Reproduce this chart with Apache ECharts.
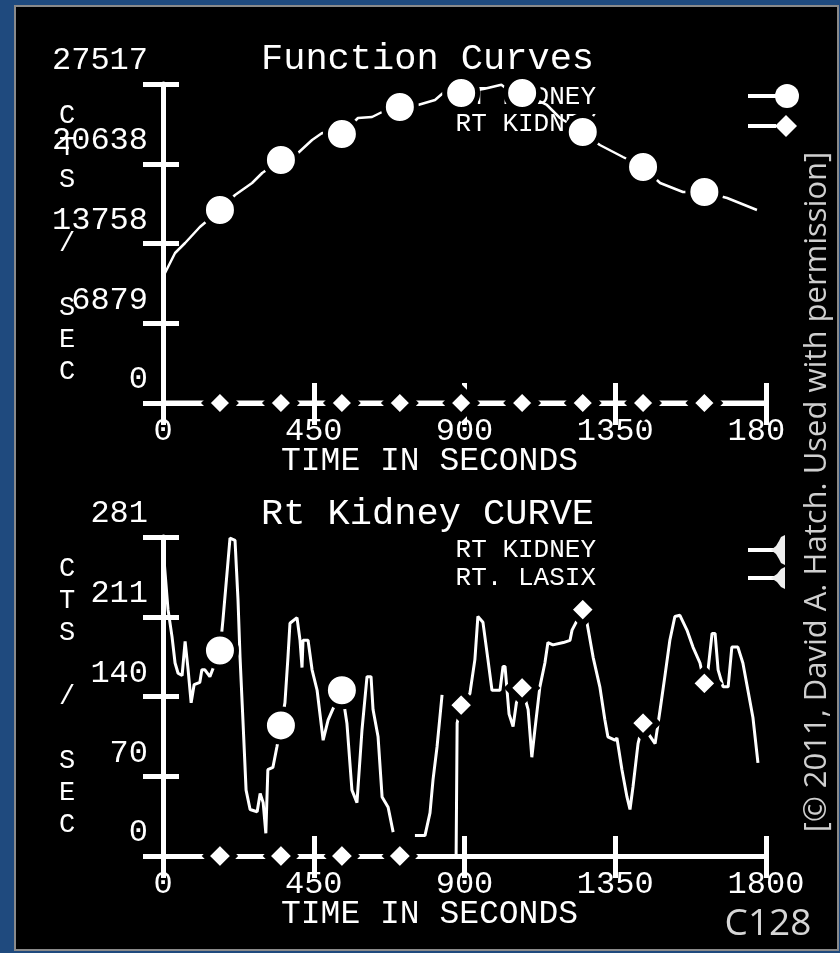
<!DOCTYPE html>
<html><head><meta charset="utf-8">
<script src="https://cdn.jsdelivr.net/npm/echarts/dist/echarts.min.js"></script>
<style>html,body{margin:0;padding:0;background:#1f4a7e}#c{width:840px;height:953px}</style>
</head><body><div id="c"></div>
<script>
// ---------------- data ----------------
const markerTimes = [170, 352, 534, 707, 890, 1072, 1253, 1433, 1616];
const xTickLabelsTop = ['0', '450', '900', '1350', '180 '];
const xTickLabelsBottom = ['0', '450', '900', '1350', '1800'];
const yTickLabelsTop = ['0', '6879', '13758', '20638', '27517'];
const yTickLabelsBottom = ['0', '70', '140', '211', '281'];

// Function Curves – RT KIDNEY (circles)
const funcTimes = [6,36,66,110,170,215,266,296,352,403,445,475,534,582,624,654,707,761,812,836,890,960,1010,1030,1072,1146,1185,1253,1304,1373,1433,1484,1552,1616,1684,1773];
const funcCounts = [11214,12939,13802,15182,16648,17942,18977,19840,20962,21565,22686,23290,23200,24584,24670,25102,25533,25706,26137,26741,26741,27100,27450,27000,26741,25706,24584,23376,22255,21220,20357,18977,18200,18200,17683,16648];
// Function Curves – RT KIDNEY (diamonds)
const funcZeroTimes = [0,170,352,534,707,890,1072,1253,1433,1616,1800];
const funcZeroCounts = [0,0,0,0,0,0,0,0,0,0,0];

// Rt Kidney CURVE – RT KIDNEY (circles)
const kidneyTimes = [0,15,27,36,45,57,66,75,84,93,110,116,125,140,170,179,191,200,215,224,230,239,248,260,281,290,299,307,313,328,340,352,364,373,379,400,409,415,418,433,445,460,478,493,508,534,549,564,579,594,609,621,627,642,654,672,687,720,752,782,797,806,818,833];
const kidneyCounts = [272,217,193,170,161,159,189,164,135,151,153,164,164,158,181,208,249,280,278,225,175,117,58,41,39,55,47,20,76,78,96,115,135,175,205,210,190,166,190,190,164,146,102,120,130,146,117,58,47,111,158,158,129,105,52,43,21,null,18,18,38,67,96,142];
// Rt Kidney CURVE – RT. LASIX (diamonds)
const lasixTimes = [0,170,352,534,707,875,878,890,916,931,940,955,970,982,1006,1015,1021,1033,1045,1055,1072,1090,1101,1110,1125,1140,1149,1164,1195,1215,1221,1253,1266,1284,1304,1319,1328,1349,1355,1370,1385,1394,1403,1418,1433,1448,1469,1484,1498,1513,1528,1543,1564,1582,1603,1616,1627,1639,1648,1657,1672,1687,1698,1716,1731,1746,1761,1776];
const lasixCounts = [0,0,0,0,0,0,117,133,143,173,211,206,173,146,146,167,167,125,114,135,148,129,87,111,149,170,188,186,188,190,199,217,205,175,149,120,105,102,104,76,52,41,61,99,117,108,99,129,158,190,211,212,199,184,170,152,164,196,196,164,149,149,184,184,170,146,122,82];

// ---------------- helpers ----------------
const MONO = 'Liberation Mono';
const W = '#ffffff';
function build(ts, vs, sym) {
  return ts.map((t, i) => ({
    value: [t, vs[i] == null ? '-' : vs[i]],
    symbol: markerTimes.indexOf(t) >= 0 ? sym : 'none'
  }));
}
function series(name, xi, yi, data, sym, size, bw, lw) {
  return {
    type: 'line', name, xAxisIndex: xi, yAxisIndex: yi, data,
    symbol: sym, symbolSize: size, showSymbol: true, showAllSymbol: true,
    connectNulls: false, silent: true, z: 3,
    lineStyle: { color: W, width: lw },
    itemStyle: { color: W, borderColor: '#000', borderWidth: bw, opacity: 1 }
  };
}
const tickStyle = { color: W, width: 5 };
function mainX(grid, labels) {
  return {
    type: 'value', gridIndex: grid, position: 'bottom', min: 0, max: 1800, interval: 450,
    axisLine: { show: true, onZero: false, lineStyle: { color: W, width: 5 } },
    axisTick: { show: true, inside: false, length: 22, lineStyle: tickStyle },
    splitLine: { show: false },
    axisLabel: { show: true, showMinLabel: true, showMaxLabel: true, color: W, fontFamily: MONO, fontSize: 32, margin: 13,
      formatter: v => labels[Math.round(v / 450)] },
    name: 'TIME IN SECONDS', nameLocation: 'middle', nameGap: 42, nameMoveOverlap: false,
    nameTextStyle: { color: W, fontFamily: MONO, fontSize: 33, padding: [0, 70, 0, 0] }
  };
}
function overX(grid) {
  return {
    type: 'value', gridIndex: grid, position: 'bottom', min: 0, max: 1800, interval: 450,
    axisLine: { show: false, onZero: false },
    axisTick: { show: true, inside: true, length: 20, lineStyle: tickStyle },
    splitLine: { show: false }, axisLabel: { show: false }
  };
}
function mainY(grid, max, labels) {
  const iv = max / 4;
  return {
    type: 'value', gridIndex: grid, position: 'left', min: 0, max: max, interval: iv,
    axisLine: { show: true, onZero: false, lineStyle: { color: W, width: 5 } },
    axisTick: { show: true, inside: false, length: 20, lineStyle: tickStyle },
    splitLine: { show: false },
    axisLabel: { show: true, showMinLabel: true, showMaxLabel: true, color: W, fontFamily: MONO, fontSize: 32, margin: 15,
      verticalAlign: 'bottom', lineHeight: 46, formatter: v => labels[Math.round(v / iv)] },
    name: 'C\nT\nS\n \n/\n \nS\nE\nC', nameLocation: 'middle', nameRotate: 0, nameGap: 96, nameMoveOverlap: false,
    nameTextStyle: { color: W, fontFamily: MONO, fontSize: 27, lineHeight: 32, align: 'center', verticalAlign: 'middle' }
  };
}
function overY(grid, max) {
  return {
    type: 'value', gridIndex: grid, position: 'left', min: 0, max: max, interval: max / 4,
    axisLine: { show: false, onZero: false },
    axisTick: { show: true, inside: true, length: 16, lineStyle: tickStyle },
    splitLine: { show: false }, axisLabel: { show: false }
  };
}
function legendText(t, x, y) {
  return { type: 'text', x, y, z: 1, style: { text: t, fill: W, font: '26px "' + MONO + '"', align: 'right', verticalAlign: 'middle' } };
}
function hline(x1, x2, y) {
  return { type: 'line', shape: { x1, y1: y, x2, y2: y }, style: { stroke: W, lineWidth: 4 }, z: 5 };
}

const chart = echarts.init(document.getElementById('c'), null, { renderer: 'canvas' });
chart.setOption({
  animation: false,
  backgroundColor: '#1f4a7e',
  title: [
    { text: 'Function Curves', left: 261, top: 41, padding: 0,
      textStyle: { color: W, fontFamily: MONO, fontSize: 37, fontWeight: 'normal' } },
    { text: 'Rt Kidney CURVE', left: 261, top: 496, padding: 0,
      textStyle: { color: W, fontFamily: MONO, fontSize: 37, fontWeight: 'normal' } }
  ],
  grid: [
    { left: 163, top: 84, width: 603, height: 319, containLabel: false, outerBoundsMode: 'none' },
    { left: 163, top: 537, width: 603, height: 319, containLabel: false, outerBoundsMode: 'none' }
  ],
  xAxis: [mainX(0, xTickLabelsTop), overX(0), mainX(1, xTickLabelsBottom), overX(1)],
  yAxis: [mainY(0, 27517, yTickLabelsTop), overY(0, 27517), mainY(1, 281, yTickLabelsBottom), overY(1, 281)],
  series: [
    series('RT KIDNEY', 0, 0, build(funcTimes, funcCounts, 'circle'), 'circle', 33, 5, 2.5),
    series('RT KIDNEY', 0, 0, build(funcZeroTimes, funcZeroCounts, 'diamond'), 'diamond', 28, 7, 5),
    series('RT KIDNEY', 2, 2, build(kidneyTimes, kidneyCounts, 'circle'), 'circle', 33, 5, 3),
    series('RT. LASIX', 2, 2, build(lasixTimes, lasixCounts, 'diamond'), 'diamond', 28, 6, 3)
  ],
  graphic: { elements: [
    { type: 'rect', z: -10, shape: { x: 15, y: 6, width: 823, height: 944 }, style: { fill: '#000', stroke: '#8a8a8a', lineWidth: 2 } },
    legendText('RT KIDNEY', 596, 97),
    legendText('RT KIDNEY', 596, 124),
    legendText('RT KIDNEY', 596, 550),
    legendText('RT. LASIX', 596, 578),
    hline(748, 776, 96),
    { type: 'circle', z: 5, shape: { cx: 787, cy: 96, r: 12 }, style: { fill: W } },
    hline(748, 776, 126),
    { type: 'polygon', z: 5, shape: { points: [[775, 126], [786, 115], [797, 126], [786, 137]] }, style: { fill: W } },
    hline(748, 774, 550),
    { type: 'polygon', z: 5, shape: { points: [[771, 550], [776, 546], [779, 541], [781, 537], [785, 535], [785, 565], [781, 563], [779, 559], [776, 554]] }, style: { fill: '#eeeeee' } },
    hline(748, 774, 578),
    { type: 'polygon', z: 5, shape: { points: [[771, 578], [777, 574], [781, 569], [785, 567], [785, 589], [781, 587], [777, 582]] }, style: { fill: '#eeeeee' } },
    { type: 'text', z: 5, x: 817, y: 492, rotation: Math.PI / 2,
      style: { text: '[\u00A9 2011, David A. Hatch. Used with permission]', fill: '#cfcfcf', font: '31px "Open Sans"', align: 'center', verticalAlign: 'middle' } },
    { type: 'text', z: 5, x: 768, y: 924,
      style: { text: 'C128', fill: '#d6d6d6', font: '37px "Open Sans"', align: 'center', verticalAlign: 'middle' } }
  ] }
});
</script>
</body></html>
